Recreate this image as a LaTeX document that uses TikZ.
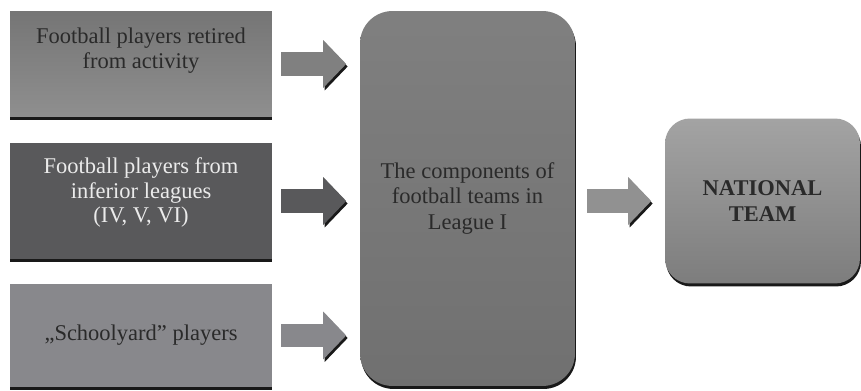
\documentclass[tikz,border=0pt]{standalone}
\usepackage{fontspec}
\setmainfont{Liberation Serif}
\usetikzlibrary{arrows.meta, shadows}
\definecolor{boxgrey}{HTML}{88888C}
\definecolor{darkgrey}{HTML}{59595B}
\definecolor{inkgrey}{HTML}{2A2A2A}
\tikzstyle{srcbox} = [rectangle, minimum width=5.24cm, align=center, text=inkgrey,
  font=\fontsize{12.8}{14}\selectfont,
  drop shadow={shadow xshift=0pt, shadow yshift=-0.06cm, fill=black!90, opacity=1}]
\tikzstyle{roundbox} = [rectangle, rounded corners=0.65cm, align=center, text=inkgrey,
  font=\fontsize{12.8}{14.5}\selectfont,
  drop shadow={shadow xshift=0.02cm, shadow yshift=-0.06cm, fill=black!90, opacity=1}]
\tikzstyle{fatarrow} = [line width=0.48cm, shorten <=0.18cm, shorten >=0.27cm,
  -{Triangle[length=0.46cm, width=0.96cm, line width=0pt]},
  preaction={draw=black!90, transform canvas={shift={(0.03cm,-0.05cm)}}}]

\begin{document}
\begin{tikzpicture}[x=0.02cm, y=-0.02cm]
\useasboundingbox[fill=white] (0,0) rectangle (861,391);

% the three sources of players
\node[srcbox, minimum height=2.12cm, top color=black!54!white, bottom color=black!44!white,
  text depth=0.64cm] (retired) at (141,64) {Football players retired\\from activity};
\node[srcbox, minimum height=2.32cm, fill=darkgrey, text=black!8,
  text depth=0.43cm] (inferior) at (141,201) {Football players from\\inferior leagues\\(IV, V, VI)};
\node[srcbox, minimum height=2.06cm, fill=boxgrey] (school) at (141,335.5) {,,Schoolyard'' players};

% league I and national team
\node[roundbox, minimum width=4.3cm, minimum height=7.5cm,
  top color=black!50!white, bottom color=black!56!white] (league) at (467.5,198.5)
  {The components of\\football teams in\\League I};
\node[roundbox, minimum width=3.9cm, minimum height=3.3cm, rounded corners=0.5cm,
  top color=black!36!white, bottom color=black!51!white,
  font=\fontsize{12.8}{14.5}\selectfont\bfseries] (national) at (762.5,201) {NATIONAL\\TEAM};

\draw[fatarrow, draw=black!50!white] (retired.east) -- (retired.east -| league.west);
\draw[fatarrow, draw=darkgrey] (inferior.east) -- (inferior.east -| league.west);
\draw[fatarrow, draw=boxgrey] (school.east) -- (school.east -| league.west);
\draw[fatarrow, draw=black!43!white, shorten <=0.24cm] (national.west -| league.east) -- (national.west);

\end{tikzpicture}
\end{document}
